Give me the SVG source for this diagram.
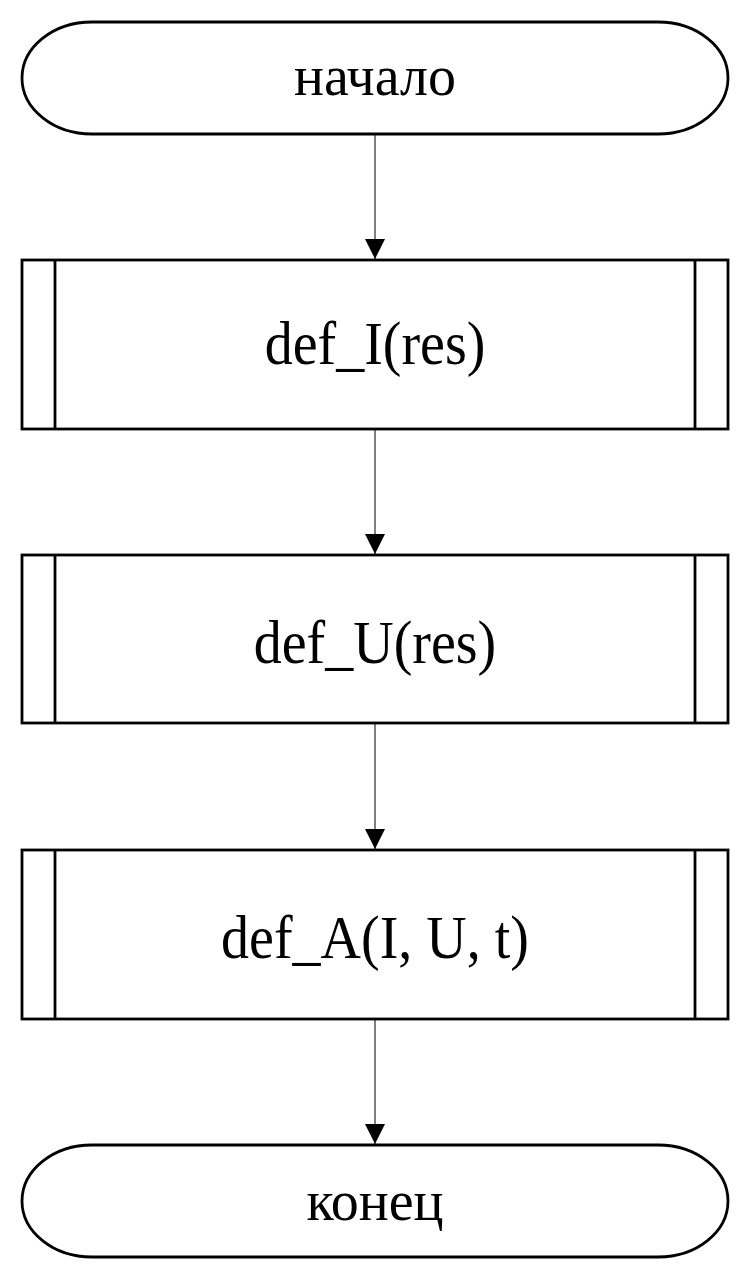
<svg xmlns="http://www.w3.org/2000/svg" width="750" height="1280" viewBox="0 0 750 1280">
<style>
.shape{fill:#fff;stroke:#000;stroke-width:2.8}
.conn{stroke:#000;stroke-width:1;fill:none}
text{font-family:"Liberation Serif","Times New Roman",serif;font-size:56px;text-anchor:middle;fill:#000}
.fn{font-size:56px}
</style>
<defs>
<marker id="arr" viewBox="0 0 20 20" refX="20" refY="10" markerWidth="20" markerHeight="20" markerUnits="userSpaceOnUse" orient="auto">
<path d="M0,0 L20,10 L0,20 Z" fill="#000"/>
</marker>
</defs>
<rect width="750" height="1280" fill="#fff"/>
<g id="connectors">
<line class="conn" x1="375" y1="134" x2="375" y2="259" marker-end="url(#arr)"/>
<line class="conn" x1="375" y1="430" x2="375" y2="554" marker-end="url(#arr)"/>
<line class="conn" x1="375" y1="724" x2="375" y2="849" marker-end="url(#arr)"/>
<line class="conn" x1="375" y1="1020" x2="375" y2="1144" marker-end="url(#arr)"/>
</g>
<g id="start">
<rect class="shape" x="22" y="22" width="706" height="112" rx="70" ry="56"/>
<text x="375" y="95">начало</text>
</g>
<g id="defI">
<rect class="shape" x="22" y="260" width="706" height="169"/>
<line class="shape" x1="55" y1="260" x2="55" y2="429"/>
<line class="shape" x1="695" y1="260" x2="695" y2="429"/>
<text class="fn" transform="translate(375,363.5) scale(1,1.08)">def_I(res)</text>
</g>
<g id="defU">
<rect class="shape" x="22" y="555" width="706" height="168"/>
<line class="shape" x1="55" y1="555" x2="55" y2="723"/>
<line class="shape" x1="695" y1="555" x2="695" y2="723"/>
<text class="fn" transform="translate(375,663) scale(1,1.08)">def_U(res)</text>
</g>
<g id="defA">
<rect class="shape" x="22" y="850" width="706" height="169"/>
<line class="shape" x1="55" y1="850" x2="55" y2="1019"/>
<line class="shape" x1="695" y1="850" x2="695" y2="1019"/>
<text class="fn" transform="translate(375,958) scale(1,1.08)">def_A(I, U, t)</text>
</g>
<g id="end">
<rect class="shape" x="22" y="1145" width="706" height="112" rx="70" ry="56"/>
<text x="375" y="1220">конец</text>
</g>
</svg>
